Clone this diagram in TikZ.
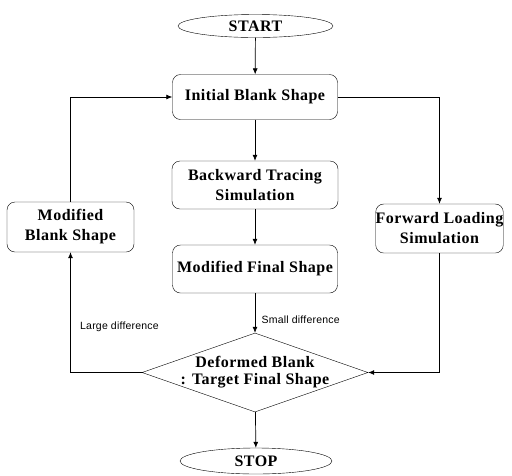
\documentclass[tikz,border=0pt]{standalone}
\usepackage{fontspec}
\setmainfont{Liberation Serif}
\newfontfamily\boxfont[LetterSpace=3]{Liberation Serif}
\newfontfamily\labelfont[LetterSpace=2]{Liberation Sans}
\usetikzlibrary{shapes.geometric,arrows.meta}

\tikzset{
  block/.style={draw, rounded corners=8pt, inner sep=0pt, align=center,
    font=\boxfont\bfseries\fontsize{16}{20}\selectfont},
  term/.style={draw, ellipse, inner sep=0pt,
    font=\boxfont\bfseries\fontsize{16}{20}\selectfont},
  decide/.style={draw, diamond, aspect=2.86, inner xsep=-40pt, inner ysep=-10pt,
    minimum width=226pt, minimum height=79pt, align=center,
    font=\boxfont\bfseries\fontsize{16}{17}\selectfont},
  conn/.style={line width=0.7pt, -{Latex[length=6pt,width=5pt]}},
  tag/.style={font=\labelfont\fontsize{10.5}{12}\selectfont}
}

\begin{document}
\begin{tikzpicture}[x=1pt,y=-1pt]
   \useasboundingbox (0,0) rectangle (512,475);

   \node[term, minimum width=155pt, minimum height=23pt] (start) at (255.5,26) {START};
   \node[block, minimum width=165pt, minimum height=45pt] (init) at (255,97) {Initial Blank Shape};
   \node[block, minimum width=166pt, minimum height=48pt] (back) at (255,185) {Backward Tracing\\Simulation};
   \node[block, minimum width=165pt, minimum height=48pt] (mfinal) at (255,269) {Modified Final Shape};
   \node[block, minimum width=127pt, minimum height=50pt] (mblank) at (70.5,227) {Modified\\Blank Shape};
   \node[block, minimum width=127pt, minimum height=49pt] (fwd) at (439.5,228.5) {Forward Loading\\Simulation};
   \node[decide] (dec) at (255,372.5) {Deformed Blank\\: Target Final Shape};
   \node[term, minimum width=152pt, minimum height=26pt] (stop) at (256,461) {STOP};

   \draw[conn] (start) -- (init);
   \draw[conn] (init) -- (back);
   \draw[conn] (back) -- (mfinal);
   \draw[conn] (mfinal) -- (dec) node[tag, pos=0.68, right=3pt] {Small difference};
   \draw[conn] (dec.west) -| (mblank.south) node[tag, pos=0.69, right=6pt] {Large difference};
   \draw[conn] (mblank.north) |- (init.west);
   \draw[conn] (init.east) -| (fwd.north);
   \draw[conn] (fwd.south) |- (dec.east);
   \draw[conn] (dec) -- (stop);

\end{tikzpicture}
\end{document}
